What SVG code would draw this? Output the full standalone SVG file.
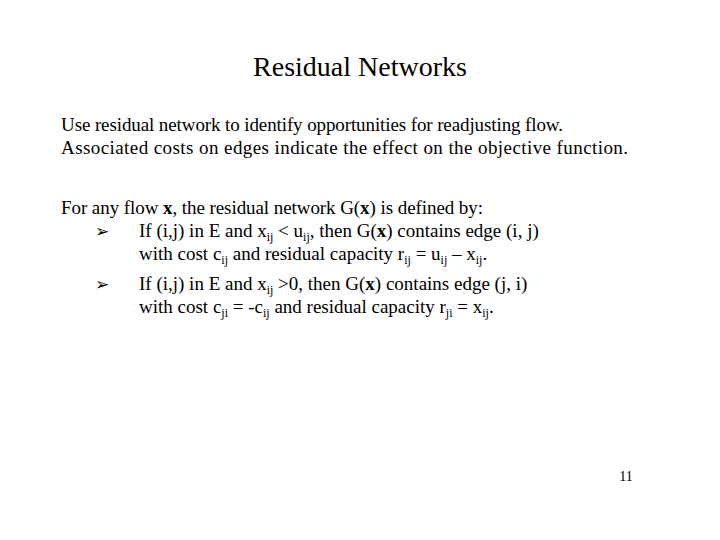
<svg xmlns="http://www.w3.org/2000/svg" width="720" height="540" viewBox="0 0 720 540">
<style>
text{font-family:"Liberation Serif","Times New Roman",serif;fill:#000}
.b{font-size:19px}
.s{font-size:12px}
.ar{font-family:"DejaVu Sans",sans-serif;font-size:17px}
</style>
<rect width="720" height="540" fill="#fff"/>
<text x="360" y="76" text-anchor="middle" font-size="28">Residual Networks</text>
<g class="b">
<text x="61" y="131" class="b" textLength="502">Use residual network to identify opportunities for readjusting flow.</text>
<text x="61" y="154" class="b" textLength="567">Associated costs on edges indicate the effect on the objective function.</text>
<text x="61" y="214" class="b" textLength="422">For any flow <tspan font-weight="bold">x</tspan>, the residual network G(<tspan font-weight="bold">x</tspan>) is defined by:</text>
<text x="95" y="237" class="ar">➢</text>
<text x="139" y="237" class="b">If (i,j) in E and x<tspan class="s" dy="4">ij</tspan><tspan dy="-4"> &lt; u</tspan><tspan class="s" dy="4">ij</tspan><tspan dy="-4">, then G(</tspan><tspan font-weight="bold">x</tspan>) contains edge (i, j)</text>
<text x="139" y="260" class="b">with cost c<tspan class="s" dy="4">ij</tspan><tspan dy="-4"> and residual capacity r</tspan><tspan class="s" dy="4">ij</tspan><tspan dy="-4"> = u</tspan><tspan class="s" dy="4">ij</tspan><tspan dy="-4"> – x</tspan><tspan class="s" dy="4">ij</tspan><tspan dy="-4">.</tspan></text>
<text x="95" y="290" class="ar">➢</text>
<text x="139" y="290" class="b">If (i,j) in E and x<tspan class="s" dy="4">ij</tspan><tspan dy="-4"> &gt;0, then G(</tspan><tspan font-weight="bold">x</tspan>) contains edge (j, i)</text>
<text x="139" y="313" class="b">with cost c<tspan class="s" dy="4">ji</tspan><tspan dy="-4"> = -c</tspan><tspan class="s" dy="4">ij</tspan><tspan dy="-4"> and residual capacity r</tspan><tspan class="s" dy="4">ji</tspan><tspan dy="-4"> = x</tspan><tspan class="s" dy="4">ij</tspan><tspan dy="-4">.</tspan></text>
</g>
<text x="626" y="481" text-anchor="middle" font-size="14">11</text>
</svg>
